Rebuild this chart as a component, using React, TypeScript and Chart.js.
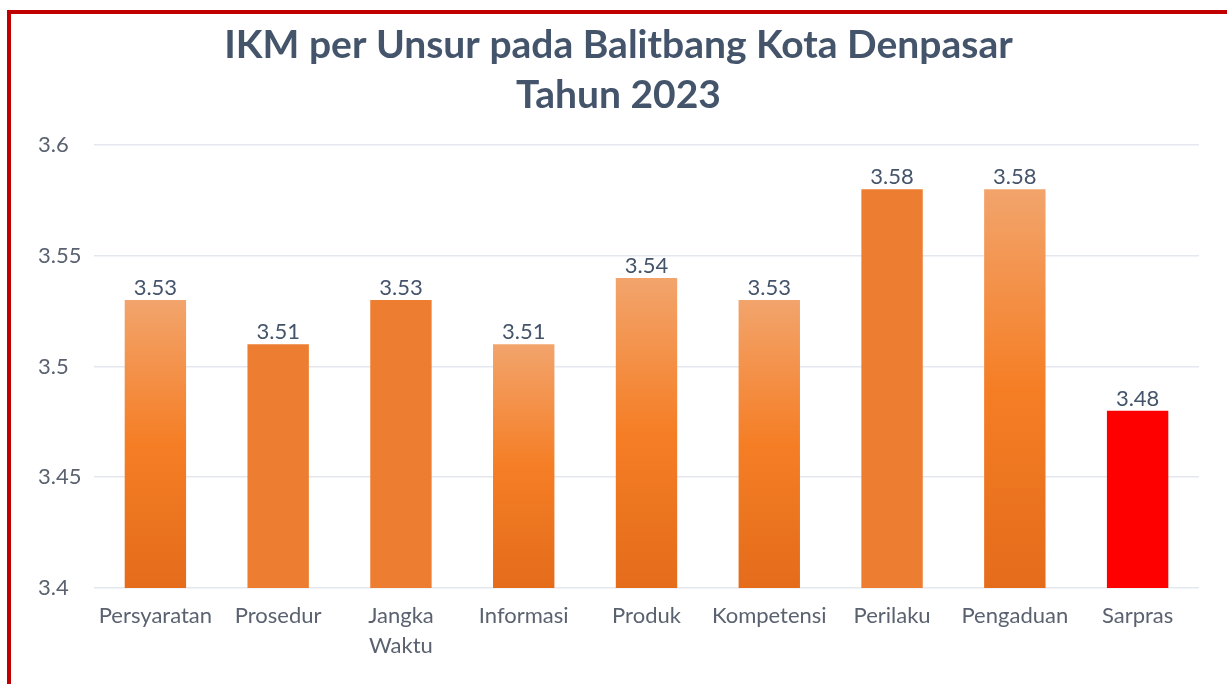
import React, { useEffect, useRef } from "react";
import { Chart, registerables } from "chart.js";

Chart.register(...registerables);

const categories: (string | string[])[] = [
  "Persyaratan",
  "Prosedur",
  ["Jangka", "Waktu"],
  "Informasi",
  "Produk",
  "Kompetensi",
  "Perilaku",
  "Pengaduan",
  "Sarpras",
];
const values = [3.53, 3.51, 3.53, 3.51, 3.54, 3.53, 3.58, 3.58, 3.48];
// fill style per bar: "grad" = light-to-dark orange gradient, "solid" = flat orange, "red" = red
const fillKinds = ["grad", "solid", "solid", "grad", "grad", "grad", "solid", "grad", "red"];
const titleLines = ["IKM per Unsur pada Balitbang Kota Denpasar", "Tahun 2023"];
const yMin = 3.4;
const yMax = 3.6;
const yStep = 0.05;

const FONT = "Lato, 'Open Sans', sans-serif";

const valueLabelPlugin = {
  id: "valueLabels",
  afterDatasetsDraw(chart: any) {
    const ctx = chart.ctx;
    const meta = chart.getDatasetMeta(0);
    ctx.save();
    ctx.font = `22px ${FONT}`;
    ctx.fillStyle = "#44546A";
    ctx.textAlign = "center";
    ctx.textBaseline = "bottom";
    meta.data.forEach((bar: any, i: number) => {
      ctx.fillText(String(values[i]), bar.x, bar.y - 1);
    });
    ctx.restore();
  },
};

export default function App() {
  const canvasRef = useRef<HTMLCanvasElement>(null);

  useEffect(() => {
    if (!canvasRef.current) return;
    const chart = new Chart(canvasRef.current, {
      type: "bar",
      data: {
        labels: categories,
        datasets: [
          {
            data: values,
            backgroundColor: (c: any) => {
              const kind = fillKinds[c.dataIndex];
              if (kind === "red") return "#FF0000";
              if (kind === "solid") return "#ED7D31";
              const chartObj = c.chart;
              const area = chartObj.chartArea;
              if (!area) return "#ED7D31";
              const ys = chartObj.scales.y;
              const top = ys.getPixelForValue(values[c.dataIndex]);
              const g = chartObj.ctx.createLinearGradient(0, top, 0, area.bottom);
              g.addColorStop(0, "#F2A46C");
              g.addColorStop(0.5, "#F57E25");
              g.addColorStop(1, "#E46C1B");
              return g;
            },
            borderWidth: 0,
            barPercentage: 0.5,
            categoryPercentage: 1,
          },
        ],
      },
      options: {
        responsive: false,
        animation: false,
        layout: { padding: { left: 27, right: 26, top: 0, bottom: 0 } },
        plugins: {
          legend: { display: false },
          tooltip: { enabled: false },
          title: {
            display: true,
            text: titleLines,
            color: "#44546A",
            font: { family: FONT, size: 39, weight: "bold", lineHeight: 1.282 },
            padding: { top: 6, bottom: 25 },
          },
        },
        scales: {
          x: {
            grid: { display: false, drawTicks: false },
            border: { display: false },
            ticks: {
              color: "#5a6270",
              font: { family: FONT, size: 22, lineHeight: 1.364 },
              padding: 13,
              maxRotation: 0,
              autoSkip: false,
            },
            afterFit: (s: any) => {
              s.height = 96;
            },
          },
          y: {
            min: yMin,
            max: yMax,
            grid: { color: "#E4E8EE", lineWidth: 1.5, drawTicks: false },
            border: { display: false },
            ticks: {
              stepSize: yStep,
              color: "#5a6270",
              font: { family: FONT, size: 22 },
              padding: 26,
              crossAlign: "far",
              callback: (v: any) => String(Number(Number(v).toFixed(2))),
            },
            afterFit: (s: any) => {
              s.width = 56;
            },
          },
        },
      },
      plugins: [valueLabelPlugin],
    });
    return () => chart.destroy();
  }, []);

  return (
    <div
      style={{
        position: "fixed",
        left: 7,
        top: 10,
        width: 1216,
        height: 690,
        borderTop: "4px solid #C00000",
        borderLeft: "4px solid #C00000",
        borderRight: "2px solid #C00000",
        background: "#fff",
      }}
    >
      <canvas ref={canvasRef} width={1214} height={670} style={{ display: "block" }} />
    </div>
  );
}
